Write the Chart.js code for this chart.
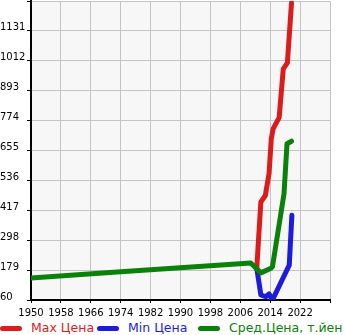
<!DOCTYPE html>
<html>
<head>
<meta charset="utf-8">
<script src="https://cdn.jsdelivr.net/npm/chart.js@4/dist/chart.umd.min.js"></script>
<style>
  html, body { margin: 0; padding: 0; background: #fff; }
  #wrap { position: relative; width: 345px; height: 335px; overflow: hidden; }
  #box { position: absolute; left: 0; top: 0; width: 345px; height: 318px; }
  #legend { position: absolute; left: 0; top: 320px; width: 345px; height: 15px; white-space: nowrap;
            font-family: "DejaVu Sans", sans-serif; font-size: 12.5px; }
  .item { position: absolute; top: 0; line-height: 15px; }
  .swatch { position: absolute; top: 6px; width: 22px; height: 5px; border-radius: 3px; }
</style>
</head>
<body>
<div id="wrap">
  <div id="box"><canvas id="lineChart"></canvas></div>
  <div id="legend"></div>
</div>
<script>
// values (year, thousand yen)
const maxYears = [2010.4, 2011.5, 2012.7, 2013.7, 2014.3, 2014.8, 2016.4, 2017.5, 2018.6, 2019.7]
const maxPrice = [185, 450, 476, 564, 703, 742, 786, 980, 1004, 1242]

const minYears = [2010.4, 2011.5, 2012.8, 2013.7, 2014.6, 2019.1, 2019.8]
const minPrice = [187, 80, 73, 84, 60, 199, 397]

const avgYears = [1950, 1974, 2008.8, 2011.5, 2014.2, 2014.6, 2017.7, 2018.5, 2019.7]
const avgPrice = [148, 172, 207, 168, 186, 192, 483, 682, 692]

const seriesNames = ["Max Цена", "Min Цена", "Сред.Цена, т.йен"]
const seriesColors = ["#dc1c1c", "#1c1cdc", "#0a820a"]

const yTicks = [60, 179, 298, 417, 536, 655, 774, 893, 1012, 1131]
const xTicks = [1950, 1958, 1966, 1974, 1982, 1990, 1998, 2006, 2014, 2022]

const pts = (xs, ys) => xs.map((x, i) => ({ x: x, y: ys[i] }))

const plotBg = {
  id: "plotBg",
  beforeDraw(chart) {
    const a = chart.chartArea, c = chart.ctx
    c.save()
    c.fillStyle = "#f7f7f7"
    c.fillRect(a.left, a.top, a.right - a.left, a.bottom - a.top)
    c.restore()
  }
}

function makeSet(i, data) {
  return {
    label: seriesNames[i],
    data: data,
    borderColor: seriesColors[i],
    backgroundColor: seriesColors[i],
    borderWidth: 5,
    borderCapStyle: "round",
    borderJoinStyle: "round",
    pointRadius: 0,
    tension: 0,
    fill: false
  }
}

var ctx = document.getElementById("lineChart").getContext("2d")
var lineChart = new Chart(ctx, {
  type: "line",
  data: {
    datasets: [
      makeSet(2, pts(avgYears, avgPrice)),
      makeSet(0, pts(maxYears, maxPrice)),
      makeSet(1, pts(minYears, minPrice))
    ]
  },
  options: {
    responsive: true,
    maintainAspectRatio: false,
    animation: false,
    layout: { padding: { top: 1, right: 15, left: 0, bottom: 0 } },
    plugins: { legend: { display: false }, tooltip: { enabled: false } },
    scales: {
      x: {
        type: "linear",
        min: 1950,
        max: 2030,
        afterBuildTicks: s => { s.ticks = xTicks.concat([2030]).map(v => ({ value: v })) },
        afterFit: s => { s.height = 18; s.paddingLeft = 0; s.paddingRight = 0 },
        grid: { color: "#c4c4c4", lineWidth: 1, tickLength: 3, tickColor: "#000" },
        border: { color: "#000", width: 2 },
        ticks: {
          color: "#000",
          font: { family: "DejaVu Sans", size: 10 },
          padding: 4,
          maxRotation: 0,
          autoSkip: false,
          callback: v => (v === 2030 ? "" : String(v))
        }
      },
      y: {
        min: 60,
        max: 1250,
        afterBuildTicks: s => { s.ticks = yTicks.concat([1250]).map(v => ({ value: v })) },
        afterFit: s => { s.width = 31; s.paddingTop = 0; s.paddingBottom = 0 },
        grid: { color: "#c4c4c4", lineWidth: 1, tickLength: 4, tickColor: "#000" },
        border: { color: "#000", width: 2 },
        ticks: {
          color: "#000",
          font: { family: "DejaVu Sans", size: 10 },
          crossAlign: "far",
          labelOffset: -3,
          padding: 2,
          callback: v => (v === 1250 ? "" : String(v))
        }
      }
    }
  },
  plugins: [plotBg]
})

// legend below the chart, clipped at the right like the original
const legendPos = [0, 97, 198]
let legend = document.getElementById("legend")
seriesNames.forEach((name, i) => {
  let item = document.createElement("div")
  item.className = "item"
  item.style.left = legendPos[i] + "px"
  item.style.color = seriesColors[i]
  item.innerHTML = '<span class="swatch" style="left:0;background:' + seriesColors[i] + '"></span>' +
    '<span style="margin-left:31px">' + name + '</span>'
  legend.appendChild(item)
})
</script>
</body>
</html>
